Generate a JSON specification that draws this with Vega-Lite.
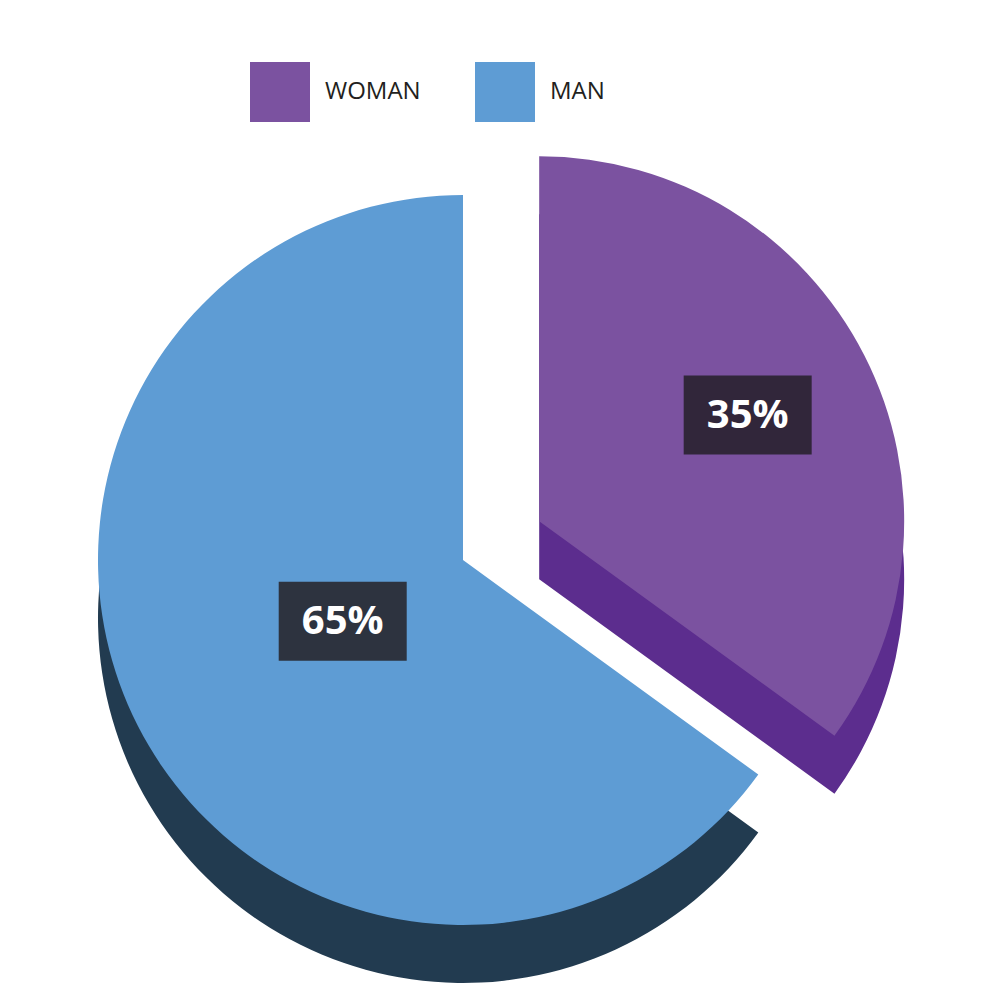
{
  "$schema": "https://vega.github.io/schema/vega-lite/v6.json",
  "width": 900,
  "height": 900,
  "autosize": {"type": "none"},
  "padding": {"left": 13, "top": 110, "right": 0, "bottom": 0},
  "background": "white",
  "config": {"view": {"stroke": null}},
  "data": {"values": [
    {"gender": "WOMAN", "share": 35},
    {"gender": "MAN", "share": 65}
  ]},
  "transform": [
    {"stack": "share", "groupby": [], "as": ["p0", "p1"], "sort": [{"field": "gender", "order": "descending"}]},
    {"joinaggregate": [{"op": "sum", "field": "share", "as": "total"}]},
    {"calculate": "datum.share / datum.total", "as": "frac"},
    {"calculate": "PI * (datum.p0 + datum.p1) / datum.total", "as": "mid"},
    {"calculate": "datum.gender === 'WOMAN' ? 0.19 : 0", "as": "ex"},
    {"calculate": "datum.ex * sin(datum.mid)", "as": "cx"},
    {"calculate": "datum.ex * cos(datum.mid)", "as": "cy"},
    {"calculate": "datum.gender === 'WOMAN' ? 0.52 : 0.30", "as": "lr"},
    {"calculate": "datum.cx + datum.lr * sin(datum.mid)", "as": "lx"},
    {"calculate": "datum.cy + datum.lr * cos(datum.mid)", "as": "ly"}
  ],
  "layer": [
    {
      "mark": {"type": "arc", "outerRadius": 365, "yOffset": 58},
      "encoding": {
        "x": {"field": "cx", "type": "quantitative", "scale": {"domain": [-1, 1]}, "axis": null},
        "y": {"field": "cy", "type": "quantitative", "scale": {"domain": [-1, 1]}, "axis": null},
        "theta": {"field": "p0", "type": "quantitative", "scale": {"domain": [0, 100]}},
        "theta2": {"field": "p1"},
        "color": {"condition": {"test": "datum.gender === 'WOMAN'", "value": "#5c2d8e"}, "value": "#223b50"}
      }
    },
    {
      "mark": {"type": "arc", "outerRadius": 365},
      "encoding": {
        "x": {"field": "cx", "type": "quantitative", "scale": {"domain": [-1, 1]}, "axis": null},
        "y": {"field": "cy", "type": "quantitative", "scale": {"domain": [-1, 1]}, "axis": null},
        "theta": {"field": "p0", "type": "quantitative", "scale": {"domain": [0, 100]}},
        "theta2": {"field": "p1"},
        "color": {
          "field": "gender",
          "type": "nominal",
          "scale": {"domain": ["WOMAN", "MAN"], "range": ["#7b52a0", "#5e9cd4"]},
          "legend": {
            "orient": "none",
            "legendX": 237,
            "legendY": -48,
            "direction": "horizontal",
            "title": null,
            "symbolType": "square",
            "symbolSize": 3600,
            "symbolStrokeWidth": 0,
            "symbolOpacity": 1,
            "labelFont": "Open Sans",
            "labelFontSize": 24,
            "labelColor": "#231f20",
            "labelOffset": 15,
            "columnPadding": 54,
            "padding": 0
          }
        }
      }
    },
    {
      "mark": {"type": "point", "shape": "M-1,-0.617H1V0.617H-1Z", "size": 16384, "filled": true, "opacity": 1, "strokeWidth": 0},
      "encoding": {
        "x": {"field": "lx", "type": "quantitative", "scale": {"domain": [-1, 1]}, "axis": null},
        "y": {"field": "ly", "type": "quantitative", "scale": {"domain": [-1, 1]}, "axis": null},
        "color": {"condition": {"test": "datum.gender === 'WOMAN'", "value": "#31263a"}, "value": "#2d333f"}
      }
    },
    {
      "mark": {"type": "text", "font": "Open Sans", "fontWeight": "bold", "fontSize": 40, "color": "#ffffff", "align": "center", "baseline": "middle", "dy": 1},
      "encoding": {
        "x": {"field": "lx", "type": "quantitative", "scale": {"domain": [-1, 1]}, "axis": null},
        "y": {"field": "ly", "type": "quantitative", "scale": {"domain": [-1, 1]}, "axis": null},
        "text": {"field": "frac", "type": "quantitative", "format": ".0%"}
      }
    }
  ]
}
